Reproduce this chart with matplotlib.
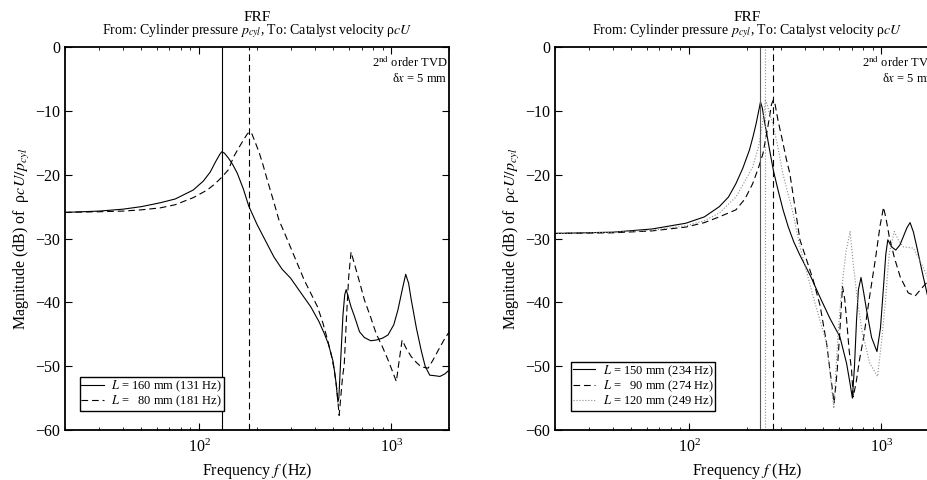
import matplotlib
matplotlib.use("Agg")
import matplotlib.pyplot as plt

plt.rcParams['font.family'] = ['Liberation Serif', 'DejaVu Serif']
plt.rcParams['mathtext.fontset'] = 'stix'
plt.rcParams['legend.fancybox'] = False

# ---- data ----
# left panel: L = 160 mm (solid) and L = 80 mm (dashed)
left_f_160 = [20, 30, 40, 50, 62.5, 75, 93, 105, 114, 122, 128, 131, 135, 142, 150,
              158, 170, 181, 200, 220, 245, 270, 299, 340, 381, 420, 448, 470, 485, 497,
              505, 515, 522, 527, 533, 545, 560, 572, 582, 595, 617, 643, 683, 724, 780,
              834, 900, 961, 1030, 1082, 1140, 1188, 1230, 1270, 1350, 1430, 1500, 1585,
              1700, 1790, 1900, 2000]
left_db_160 = [-25.9, -25.7, -25.4, -25.0, -24.4, -23.8, -22.4, -21.0, -19.6, -17.9,
               -16.8, -16.4, -16.6, -17.4, -18.5, -19.8, -22.3, -24.9, -27.8, -30.2,
               -32.9, -34.8, -36.2, -38.6, -40.7, -43.0, -44.9, -46.5, -48.0, -49.2,
               -50.6, -52.5, -54.3, -55.6, -55.0, -49.0, -42.0, -38.8, -38.0, -39.0,
               -40.7, -42.2, -44.6, -45.5, -46.0, -45.9, -45.6, -45.1, -43.5, -41.2,
               -38.0, -35.6, -37.0, -39.6, -44.0, -47.5, -50.0, -51.4, -51.5, -51.6,
               -51.2, -50.6]

left_f_80 = [20, 30, 40, 50, 62.5, 75, 93, 110, 120, 131, 142, 151, 162, 172, 178,
             183, 188, 195, 205, 215, 226, 243, 260, 276, 300, 352, 413, 440, 466, 485,
             505, 520, 535, 545, 556, 569, 585, 600, 617, 650, 683, 724, 780, 834, 900,
             961, 1020, 1062, 1100, 1138, 1200, 1270, 1350, 1430, 1555, 1650, 1755, 1870,
             2000]
left_db_80 = [-25.9, -25.8, -25.7, -25.5, -25.2, -24.7, -23.6, -22.4, -21.5, -20.4,
              -19.2, -17.2, -15.6, -14.3, -13.6, -13.3, -13.6, -14.8, -16.5, -18.5,
              -20.8, -24.0, -27.1, -28.9, -31.5, -36.5, -40.7, -43.2, -45.9, -48.0,
              -50.6, -53.5, -57.7, -55.0, -52.0, -49.6, -42.0, -36.0, -32.1, -34.5,
              -36.8, -39.6, -42.3, -44.9, -47.0, -49.0, -51.0, -52.4, -49.0, -45.9,
              -47.3, -48.5, -49.4, -50.1, -50.3, -49.0, -47.5, -46.0, -44.6]

left_res = [131, 181]
left_labels = ['$L$ = 160 mm (131 Hz)', '$L$ =   80 mm (181 Hz)']

# right panel: L = 150 mm (solid), 90 mm (dashed), 120 mm (dotted)
right_f_150 = [20, 40, 64, 96, 120, 143.5, 160, 175, 190, 206, 215, 223, 230, 235, 240,
               246, 254, 262, 275, 290, 308, 328, 350, 377, 430, 478, 540, 609, 660, 690,
               707, 725, 743, 760, 784, 810, 838, 890, 949, 990, 1027, 1055, 1081, 1130,
               1189, 1250, 1302, 1360, 1412, 1470, 1530, 1640, 1760, 1900]
right_db_150 = [-29.2, -29.0, -28.5, -27.6, -26.6, -25.0, -23.5, -21.4, -19.0, -16.1,
                -14.0, -12.0, -10.0, -8.6, -9.5, -11.5, -13.8, -16.1, -19.5, -22.4,
                -25.5, -28.2, -30.5, -32.6, -36.0, -39.1, -42.5, -45.4, -49.6, -53.0,
                -55.0, -50.0, -42.8, -38.0, -36.1, -38.5, -41.2, -45.5, -47.7, -44.0,
                -37.5, -32.5, -30.2, -31.3, -31.8, -31.0, -29.7, -28.3, -27.5, -29.0,
                -31.3, -35.5, -39.6, -43.0]

right_f_90 = [20, 40, 64, 96, 120, 143.5, 175, 195, 214, 230, 242, 255, 262, 268, 274,
              280, 290, 305, 320, 334, 355, 377, 410, 442, 480, 519, 545, 568, 590, 609,
              628, 645, 660, 680, 700, 714, 740, 770, 810, 870, 935, 985, 1027, 1060,
              1100, 1170, 1254, 1380, 1500, 1620, 1770, 1900]
right_db_90 = [-29.2, -29.1, -28.8, -28.2, -27.5, -26.6, -25.5, -23.8, -21.4, -18.8,
               -16.7, -13.0, -10.9, -9.0, -8.3, -9.0, -11.5, -14.5, -17.5, -19.8,
               -25.0, -30.2, -33.5, -36.5, -40.5, -46.4, -51.5, -55.8, -50.5, -44.3,
               -37.5, -39.5, -42.8, -47.5, -50.6, -54.8, -52.5, -49.0, -45.4, -39.0,
               -32.9, -28.0, -25.1, -27.0, -29.7, -33.0, -36.0, -38.5, -39.0, -37.8,
               -36.5, -35.0]

right_f_120 = [20, 40, 64, 96, 120, 143.5, 175, 195, 214, 230, 241, 249, 255, 262, 272,
               290, 307, 327, 347, 377, 442, 519, 545, 566, 595, 621, 655, 688, 714, 750,
               791, 870, 956, 1000, 1048, 1100, 1168, 1230, 1302, 1470, 1620, 1770, 1900]
right_db_120 = [-29.2, -29.0, -28.7, -28.0, -27.2, -26.0, -23.5, -21.0, -18.8, -15.5,
                -11.9, -8.4, -9.0, -10.5, -11.9, -15.8, -19.8, -23.0, -26.0, -31.3,
                -39.1, -46.4, -52.0, -56.6, -45.0, -38.1, -32.0, -28.9, -33.9, -39.5,
                -44.3, -49.5, -51.6, -46.5, -40.2, -32.3, -28.9, -30.3, -31.3, -31.5,
                -34.0, -36.5, -38.5]

right_res = [234, 274, 249]
right_labels = ['$L$ = 150 mm (234 Hz)', '$L$ =   90 mm (274 Hz)', '$L$ = 120 mm (249 Hz)']

yticks = [0, -10, -20, -30, -40, -50, -60]

fig = plt.figure(figsize=(9.28, 4.8), dpi=100)
ax1 = fig.add_axes([0.070, 0.104, 0.414, 0.798])
ax2 = fig.add_axes([0.598, 0.104, 0.414, 0.798])

dash = (6, 3.5)
lw = 0.8
leg_kw = dict(loc='lower left', borderaxespad=0, fontsize=9, borderpad=0.12,
              labelspacing=0.0, handlelength=1.8, handletextpad=0.6,
              edgecolor='k', framealpha=1)

# left
l1, = ax1.plot(left_f_160, left_db_160, color='k', lw=lw)
l2, = ax1.plot(left_f_80, left_db_80, color='k', lw=lw, dashes=dash)
ax1.axvline(left_res[0], color='k', lw=lw)
ax1.axvline(left_res[1], color='k', lw=lw, dashes=dash)
ax1.legend([l1, l2], left_labels, bbox_to_anchor=(0.039, 0.05), **leg_kw)

# right
r1, = ax2.plot(right_f_150, right_db_150, color='k', lw=lw)
r2, = ax2.plot(right_f_90, right_db_90, color='k', lw=lw, dashes=dash)
r3, = ax2.plot(right_f_120, right_db_120, color='0.55', lw=lw, linestyle=':')
ax2.axvline(right_res[0], color='0.35', lw=lw)
ax2.axvline(right_res[1], color='k', lw=lw, dashes=dash)
ax2.axvline(right_res[2], color='0.55', lw=lw, linestyle=':')
ax2.legend([r1, r2, r3], right_labels, bbox_to_anchor=(0.042, 0.05), **leg_kw)

for ax in (ax1, ax2):
    ax.set_xscale('log')
    ax.set_xlim(20, 2000)
    ax.set_ylim(-60, 0)
    ax.set_yticks(yticks)
    ax.tick_params(which='both', direction='in', top=True, right=True, labelsize=11.5)
    ax.tick_params(which='major', length=5, width=0.8)
    ax.tick_params(which='minor', length=2.5, width=0.6)
    ax.tick_params(axis='x', which='major', pad=6)
    for s in ax.spines.values():
        s.set_linewidth(1.3)
    ax.set_xlabel('Frequency $f$ (Hz)', fontsize=11.5, labelpad=4)
    ax.set_ylabel('Magnitude (dB) of  ρ$cU/p_{cyl}$', fontsize=11.5, labelpad=2)
    ax.text(0.5, 1.068, 'FRF', transform=ax.transAxes, ha='center', va='baseline',
            fontsize=11)
    ax.text(0.5, 1.034, 'From: Cylinder pressure $p_{cyl}$, To: Catalyst velocity ρ$cU$',
            transform=ax.transAxes, ha='center', va='baseline', fontsize=10)
    ax.text(0.995, 0.961, '2$^{\\mathrm{nd}}$ order TVD', transform=ax.transAxes,
            ha='right', va='center', fontsize=9)
    ax.text(0.995, 0.917, 'δ$x$ = 5 mm', transform=ax.transAxes,
            ha='right', va='center', fontsize=9)
    ax.get_legend().get_frame().set_linewidth(1.0)

fig.savefig('out.png', dpi=100)
